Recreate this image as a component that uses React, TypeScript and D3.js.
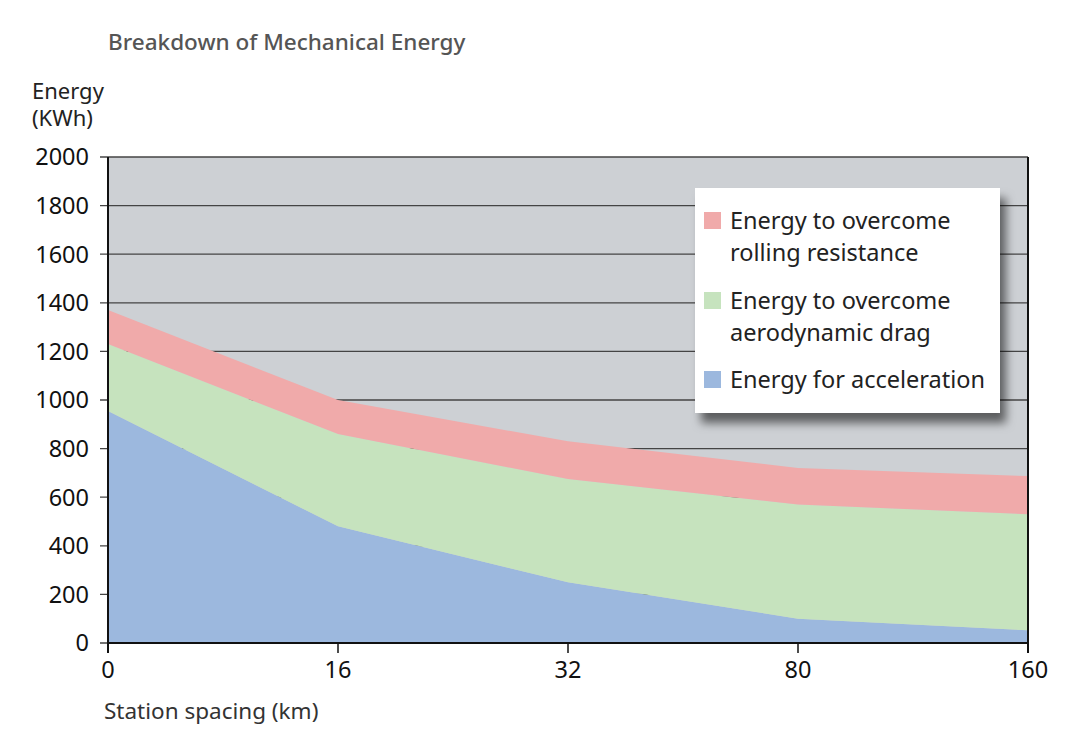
import React from "react";
import * as d3 from "d3";

const categories = ["0", "16", "32", "80", "160"];
const acceleration = [955, 480, 250, 100, 52];
const aeroDrag = [275, 380, 425, 470, 478];
const rolling = [140, 140, 155, 150, 157];
const yTicks = [0, 200, 400, 600, 800, 1000, 1200, 1400, 1600, 1800, 2000];
const seriesKeys = ["acceleration", "aeroDrag", "rolling"];
const seriesColors: Record<string, string> = {
  acceleration: "#9cb8de",
  aeroDrag: "#c6e3be",
  rolling: "#f0aaaa",
};
const legendItems = [
  { key: "rolling", lines: ["Energy to overcome", "rolling resistance"] },
  { key: "aeroDrag", lines: ["Energy to overcome", "aerodynamic drag"] },
  { key: "acceleration", lines: ["Energy for acceleration"] },
];

const W = 1080;
const H = 740;
const left = 108;
const right = 1028;
const top = 157;
const bottom = 643;
const font = "'Noto Sans', 'Open Sans', sans-serif";

export default function App() {
  const rows = categories.map((c, i) => ({
    cat: c,
    acceleration: acceleration[i],
    aeroDrag: aeroDrag[i],
    rolling: rolling[i],
  }));
  const stacked = d3.stack<any>().keys(seriesKeys)(rows);
  const x = d3.scalePoint<string>().domain(categories).range([left, right]);
  const y = d3.scaleLinear().domain([0, 2000]).range([bottom, top]);
  const area = d3
    .area<any>()
    .x((d) => x(d.data.cat) as number)
    .y0((d) => y(d[0]))
    .y1((d) => y(d[1]))
    .curve(d3.curveLinear);

  const lgX = 695;
  const lgY = 188;
  const lgW = 305;
  const lgH = 225;

  return (
    <svg
      width={W}
      height={H}
      style={{ position: "absolute", left: 0, top: 0, background: "#fff" }}
      fontFamily={font}
    >
      <defs>
        <filter id="shadow" x="-10%" y="-10%" width="130%" height="140%">
          <feDropShadow dx="6" dy="10" stdDeviation="5" floodColor="#000" floodOpacity="0.55" />
        </filter>
      </defs>
      <rect x={0} y={0} width={W} height={H} fill="#fff" />
      <text x={108} y={50} fontSize={22.5} fontWeight={500} fill="#555">
        Breakdown of Mechanical Energy
      </text>
      <text x={32} y={99} fontSize={22} fill="#222">Energy</text>
      <text x={32} y={126} fontSize={22} fill="#222">(KWh)</text>

      <rect x={left} y={top} width={right - left} height={bottom - top} fill="#cdd0d4" />
      {yTicks.map((t) => (
        <g key={t}>
          <line
            x1={left - 8}
            x2={right}
            y1={y(t)}
            y2={y(t)}
            stroke="#444"
            strokeWidth={1.3}
          />
          <text
            x={89}
            y={y(t)}
            dy="0.36em"
            textAnchor="end"
            fontSize={23.5}
            fill="#111"
          >
            {t}
          </text>
        </g>
      ))}
      {stacked.map((s) => (
        <path key={s.key} d={area(s) as string} fill={seriesColors[s.key]} />
      ))}
      <line x1={left} x2={left} y1={top} y2={bottom + 10} stroke="#111" strokeWidth={2} />
      <line x1={right} x2={right} y1={top} y2={bottom + 10} stroke="#111" strokeWidth={2} />
      <line x1={left} x2={right} y1={bottom} y2={bottom} stroke="#111" strokeWidth={2} />
      {categories.map((c) => (
        <g key={c}>
          <line
            x1={x(c) as number}
            x2={x(c) as number}
            y1={bottom}
            y2={bottom + 10}
            stroke="#111"
            strokeWidth={1.5}
          />
          <text
            x={x(c) as number}
            y={678}
            textAnchor="middle"
            fontSize={23.5}
            fill="#111"
          >
            {c}
          </text>
        </g>
      ))}
      <text x={104} y={719} fontSize={22.5} fill="#333">
        Station spacing (km)
      </text>

      <rect x={lgX} y={lgY} width={lgW} height={lgH} fill="#fff" filter="url(#shadow)" />
      {(() => {
        const starts = [229, 309, 388];
        return legendItems.map((it, i) => (
          <g key={it.key}>
            <rect
              x={704}
              y={starts[i] - 17}
              width={17}
              height={17}
              fill={seriesColors[it.key]}
            />
            {it.lines.map((ln, j) => (
              <text key={j} x={730} y={starts[i] + j * 32} fontSize={23.5} fill="#222">
                {ln}
              </text>
            ))}
          </g>
        ));
      })()}
    </svg>
  );
}
